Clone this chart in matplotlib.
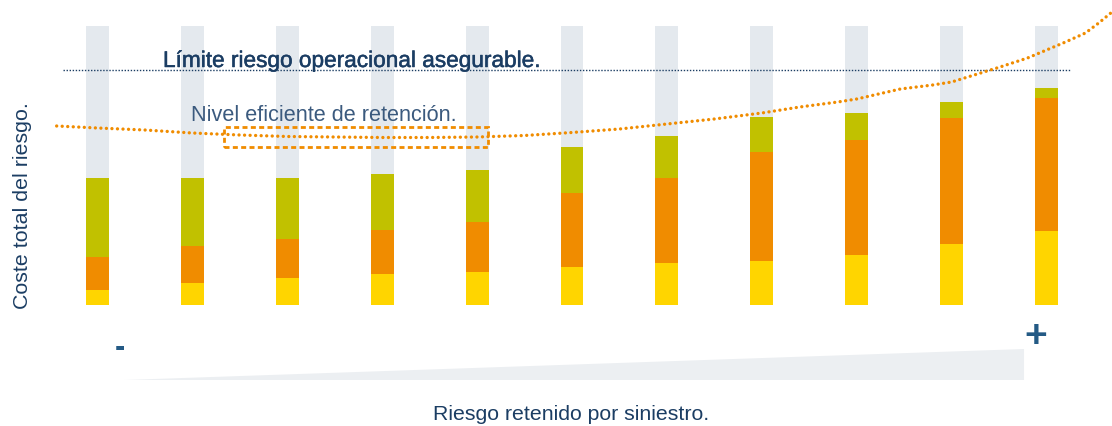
import numpy as np
import matplotlib
matplotlib.use("Agg")
import matplotlib.pyplot as plt
import matplotlib.patheffects as pe
from matplotlib.patches import Rectangle, Polygon

plt.rcParams["font.family"] = ["Liberation Sans", "DejaVu Sans"]

# stacked cost parts per retention level (arbitrary units)
levels = np.arange(11)
yellow_part = [15, 22, 27, 31, 33, 38, 42, 44, 50, 61, 74]
orange_part = [33, 37, 39, 44, 50, 74, 85, 109, 115, 126, 133]
green_part = [79, 68, 61, 56, 52, 46, 42, 35, 27, 16, 10]
background_total = [279] * 11

# total cost curve (x in level units)
curve_x = [-0.43, 0.0, 0.5, 1.0, 1.5, 2.0, 2.5, 3.0, 3.5, 4.0, 4.5, 5.0, 5.5, 6.0,
           6.5, 7.0, 7.4, 7.8, 8.0, 8.46, 8.8, 9.0, 9.51, 9.8, 10.0, 10.2, 10.41, 10.55, 10.69]
curve_y = [179, 177, 175, 172, 170, 168.5, 168, 167.5, 167.5, 168, 169.5, 172.5, 176, 181,
           186, 192, 198, 203, 206, 216, 220, 223, 238, 247, 255, 263, 272, 282, 293]

insurable_limit = 235.3
efficient_box = (1.333, 4.114, 158, 178)

navy = "#1b3d63"
grey = "#e4e9ee"
yellow = "#ffd500"
orange = "#f08c00"
olive = "#c1c100"

W, H = 1112, 426
fig = plt.figure(figsize=(W / 100, H / 100), dpi=100)
ax = fig.add_axes([0, 0, 1, 1])
ax.axis("off")
ax.set_xlim(-1.027, 10.690)
ax.set_ylim(-121, 305)

def px(x, y):
    return x / W, 1 - y / H

bw = 0.242
ax.bar(levels, background_total, width=bw, color=grey, zorder=1)
ax.bar(levels, yellow_part, width=bw, color=yellow, zorder=2)
bottom = np.array(yellow_part)
ax.bar(levels, orange_part, width=bw, bottom=bottom, color=orange, zorder=2)
bottom = bottom + np.array(orange_part)
ax.bar(levels, green_part, width=bw, bottom=bottom, color=olive, zorder=2)

# insurable limit line
ax.plot([-0.364, 10.248], [insurable_limit] * 2, color=navy, lw=1.0,
        linestyle=(0, (1, 1.2)), zorder=3)

# cost curve
ax.plot(curve_x, curve_y, color=orange, lw=2.4, linestyle=(0, (0.01, 1.65)),
        dash_capstyle="round", zorder=4, clip_on=False)

# efficient retention box
x0, x1, y0, y1 = efficient_box
ax.add_patch(Rectangle((x0, y0), x1 - x0, y1 - y0, fill=False, edgecolor=orange,
                       lw=2.0, linestyle=(0, (1.8, 1.2)), zorder=4))

# wedge under the axis
ax.add_patch(Polygon([(0.29, -75), (9.763, -44), (9.763, -75)], closed=True,
                     facecolor="#eceff2", edgecolor="none", zorder=1))

fig.text(*px(163, 67), "Límite riesgo operacional asegurable.", color=navy,
         fontsize=16.3, va="baseline", ha="left",
         path_effects=[pe.withStroke(linewidth=0.35, foreground=navy)])
fig.text(*px(191, 121), "Nivel eficiente de retención.", color="#3b5a7e",
         fontsize=15.6, va="baseline", ha="left")
fig.text(*px(23, 206), "Coste total del riesgo.", color=navy, fontsize=15.4,
         rotation=90, ha="center", va="center")
fig.text(*px(571, 415), "Riesgo retenido por siniestro.", color=navy, fontsize=15.3,
         ha="center", va="center")
fig.text(*px(119.5, 348), "-", color="#245a85", fontsize=22, weight="bold",
         ha="center", va="center")
fig.text(*px(1035.5, 337), "+", color="#245a85", fontsize=28, weight="bold",
         ha="center", va="center")

fig.savefig("out.png", dpi=100)
